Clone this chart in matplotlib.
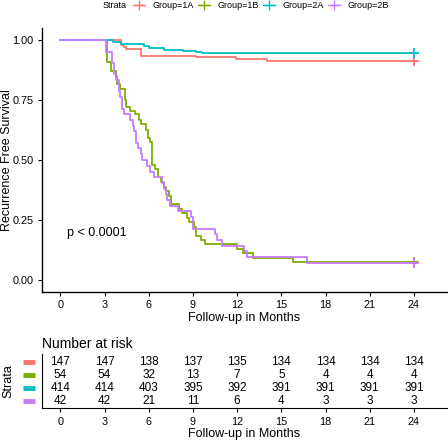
import matplotlib
matplotlib.use("Agg")
import matplotlib.pyplot as plt
from matplotlib.lines import Line2D
from matplotlib.transforms import blended_transform_factory
import numpy as np

plt.rcParams['font.family'] = ['Liberation Sans', 'DejaVu Sans']

groups = ["Group=1A", "Group=1B", "Group=2A", "Group=2B"]
colors = ["#F8766D", "#7CAE00", "#00BFC4", "#C77CFF"]

t_1A = [0, 4.1, 4.3, 4.45, 5.48, 6.4, 9.2, 11.9, 14.0]
s_1A = [1, 0.979, 0.97, 0.961, 0.935, 0.932, 0.928, 0.921, 0.912]

t_2A = [0, 3.6, 4.1, 5.7, 6.0, 7.0, 8.3, 9.2, 9.6, 10.1]
s_2A = [1, 0.993, 0.985, 0.975, 0.965, 0.958, 0.954, 0.95, 0.947, 0.944]

t_1B = [0, 3.19, 3.41, 3.75, 3.84, 4.07, 4.36, 4.47, 4.7, 5.08, 5.37, 5.49, 5.82,
        5.98, 6.11, 6.2, 6.45, 6.63, 6.83, 7.01, 7.17, 7.35, 7.51, 8.03, 8.26,
        8.57, 8.7, 9.07, 9.24, 9.54, 9.83, 11.97, 12.4, 13.1, 15.8]
s_1B = [1, 0.907, 0.87, 0.852, 0.815, 0.796, 0.75, 0.722, 0.704, 0.69, 0.667, 0.648, 0.625,
        0.593, 0.574, 0.481, 0.463, 0.43, 0.407, 0.389, 0.37, 0.352, 0.315, 0.296, 0.278,
        0.259, 0.241, 0.222, 0.185, 0.167, 0.148, 0.13, 0.111, 0.093, 0.074]

t_2B = [0, 3.07, 3.52, 3.61, 3.79, 3.95, 4.07, 4.2, 4.31, 4.7, 4.92, 5.03, 5.15, 5.3,
        5.44, 5.56, 5.87, 6.05, 6.34, 6.9, 7.05, 7.17, 7.25, 7.44, 7.96, 8.86, 9.02,
        10.49, 10.6, 11.0, 12.47, 12.7, 16.75]
s_2B = [1, 0.952, 0.905, 0.857, 0.833, 0.786, 0.762, 0.714, 0.69, 0.667, 0.643, 0.619, 0.571, 0.548,
        0.524, 0.5, 0.476, 0.452, 0.429, 0.405, 0.381, 0.357, 0.333, 0.31, 0.286, 0.262, 0.214,
        0.19, 0.167, 0.143, 0.119, 0.095, 0.071]

end_time = 24.1
censor_time = 24

risk_times = [0, 3, 6, 9, 12, 15, 18, 21, 24]
risk_1A = [147, 147, 138, 137, 135, 134, 134, 134, 134]
risk_1B = [54, 54, 32, 13, 7, 5, 4, 4, 4]
risk_2A = [414, 414, 403, 395, 392, 391, 391, 391, 391]
risk_2B = [42, 42, 21, 11, 6, 4, 3, 3, 3]

curves = [(t_1A, s_1A), (t_1B, s_1B), (t_2A, s_2A), (t_2B, s_2B)]
risks = [risk_1A, risk_1B, risk_2A, risk_2B]

W, H = 448, 440
fig = plt.figure(figsize=(W / 100, H / 100), dpi=100)

def fx(px):
    return px / W

def fy(py):
    return 1 - py / H

xlim = (-1.25, 26.25)

# Main plot
ax = fig.add_axes([fx(42), fy(292), fx(447) - fx(42), fy(28) - fy(292)])
for (t, s), c in zip(curves, colors):
    tt = list(t) + [end_time]
    ss = list(s) + [s[-1]]
    ax.step(tt, ss, where='post', color=c, lw=1.3)
    ax.plot([censor_time], [s[-1]], marker='+', color=c, ms=7, mew=1.3, linestyle='none')

ax.set_xlim(*xlim)
ax.set_ylim(-0.05, 1.05)
ax.set_xticks(risk_times)
ax.set_yticks([0, 0.25, 0.5, 0.75, 1.0])
ax.set_yticklabels(["0.00", "0.25", "0.50", "0.75", "1.00"])
ax.spines['top'].set_visible(False)
ax.spines['right'].set_visible(False)
for sp in ['left', 'bottom']:
    ax.spines[sp].set_linewidth(1.0)
    ax.spines[sp].set_color('black')
ax.tick_params(axis='both', labelsize=7.8, colors='black', length=3, width=0.8, pad=3)
ax.set_xlabel("Follow-up in Months", fontsize=9, labelpad=1)
fig.text(fx(7), fy(160), "Recurrence Free Survival", rotation=90, fontsize=9,
         va='center', ha='center')
ax.text(0.44, 0.196, "p < 0.0001", fontsize=9, va='center', ha='left')

# Legend at top
fig.text(fx(103), fy(5.5), "Strata", fontsize=6.5, va='center', ha='left')
key_x = [139, 204, 269, 334]
lab_x = [152, 217, 282, 347]
for kx, lx, c, g in zip(key_x, lab_x, colors, groups):
    fig.add_artist(Line2D([fx(kx - 6), fx(kx + 6)], [fy(5), fy(5)], color=c, lw=1.0,
                          transform=fig.transFigure))
    fig.add_artist(Line2D([fx(kx)], [fy(5)], marker='+', ms=7, mew=1.0, color=c,
                          transform=fig.transFigure))
    fig.text(fx(lx), fy(5.5), g, fontsize=6.5, va='center', ha='left')

# Risk table
ax2 = fig.add_axes([fx(42), fy(408.3), fx(447) - fx(42), fy(354) - fy(408.3)])
ax2.set_xlim(*xlim)
ax2.set_ylim(0.4, 4.6)
ypos = [4, 3, 2, 1]
for r, y in zip(risks, ypos):
    for t, n in zip(risk_times, r):
        ax2.text(t, y, str(n), ha='center', va='center', fontsize=8.5)
ax2.set_xticks(risk_times)
ax2.set_yticks([])
ax2.spines['top'].set_visible(False)
ax2.spines['right'].set_visible(False)
ax2.tick_params(axis='x', labelsize=7.8, colors='black', length=3, width=0.8, pad=3)
ax2.set_xlabel("Follow-up in Months", fontsize=9, labelpad=1)
ax2.set_title("Number at risk", fontsize=10, loc='left', pad=4)
trans = blended_transform_factory(fig.transFigure, ax2.transData)
for c, y in zip(colors, ypos):
    fig.add_artist(Line2D([fx(23), fx(35)], [y, y], color=c, lw=3.5, transform=trans,
                          solid_capstyle='butt'))
fig.text(fx(8), fy(381), "Strata", rotation=90, fontsize=9, va='center', ha='center')

fig.savefig("out.png", dpi=100)
